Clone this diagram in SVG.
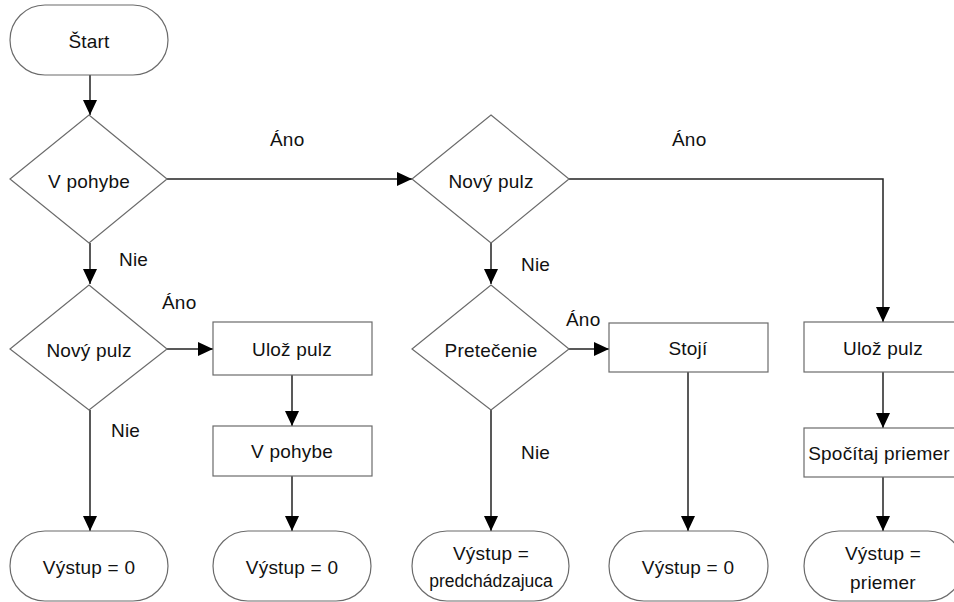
<svg xmlns="http://www.w3.org/2000/svg" width="954" height="602" viewBox="0 0 954 602">
<style>
.n{fill:#fff;stroke:#6b6b6b;stroke-width:1.2}
.t{font-family:"Liberation Sans",Arial,sans-serif;font-size:19px;letter-spacing:0.2px;fill:#111;text-anchor:middle;dominant-baseline:central}
.s{font-size:17.5px;letter-spacing:0}
.l{font-family:"Liberation Sans",Arial,sans-serif;font-size:19px;letter-spacing:0.2px;fill:#111;dominant-baseline:central}
.c{fill:none;stroke:#222;stroke-width:1.5}
</style>
<defs>
<marker id="a" markerUnits="userSpaceOnUse" markerWidth="16" markerHeight="14" refX="15" refY="7" orient="auto">
<path d="M0,0 L15,7 L0,14 z" fill="#000"/>
</marker>
</defs>
<rect width="954" height="602" fill="#fff"/>
<g id="connectors">
<path class="c" d="M90,75 V115" marker-end="url(#a)"/>
<path class="c" d="M167,179 H412" marker-end="url(#a)"/>
<path class="c" d="M90,243 V284" marker-end="url(#a)"/>
<path class="c" d="M167,349 H213" marker-end="url(#a)"/>
<path class="c" d="M90,410 V531" marker-end="url(#a)"/>
<path class="c" d="M292,375 V426" marker-end="url(#a)"/>
<path class="c" d="M292,476 V531" marker-end="url(#a)"/>
<path class="c" d="M491,243 V284" marker-end="url(#a)"/>
<path class="c" d="M569,179 H883 V322" marker-end="url(#a)"/>
<path class="c" d="M569,349 H609" marker-end="url(#a)"/>
<path class="c" d="M491,410 V531" marker-end="url(#a)"/>
<path class="c" d="M688,372 V531" marker-end="url(#a)"/>
<path class="c" d="M883,372 V428" marker-end="url(#a)"/>
<path class="c" d="M883,477 V531" marker-end="url(#a)"/>
<text class="l" x="270" y="139">Áno</text>
<text class="l" x="672" y="139">Áno</text>
<text class="l" x="119" y="259">Nie</text>
<text class="l" x="162" y="302">Áno</text>
<text class="l" x="111" y="430">Nie</text>
<text class="l" x="521" y="264">Nie</text>
<text class="l" x="566" y="319">Áno</text>
<text class="l" x="521" y="452">Nie</text>
</g>
<g id="start"><rect class="n" x="10" y="5" width="158" height="70" rx="35"/><text class="t" x="89" y="41">Štart</text></g>
<g id="d1"><path class="n" d="M89,115 L167,179 L89,243 L10,179 z"/><text class="t" x="89" y="181">V pohybe</text></g>
<g id="d2"><path class="n" d="M89,285 L167,349 L89,410 L10,349 z"/><text class="t" x="89" y="350">Nový pulz</text></g>
<g id="b1"><rect class="n" x="213" y="322" width="159" height="53"/><text class="t" x="292" y="349">Ulož pulz</text></g>
<g id="b2"><rect class="n" x="213" y="426" width="159" height="50"/><text class="t" x="292" y="451">V pohybe</text></g>
<g id="e1"><rect class="n" x="10" y="531" width="158" height="70" rx="35"/><text class="t" x="89" y="567">Výstup = 0</text></g>
<g id="e2"><rect class="n" x="213" y="531" width="158" height="70" rx="35"/><text class="t" x="292" y="567">Výstup = 0</text></g>
<g id="d3"><path class="n" d="M491,115 L569,179 L491,243 L412,179 z"/><text class="t" x="491" y="181">Nový pulz</text></g>
<g id="d4"><path class="n" d="M491,285 L569,349 L491,410 L412,349 z"/><text class="t" x="491" y="350">Pretečenie</text></g>
<g id="b3"><rect class="n" x="609" y="323" width="159" height="49"/><text class="t" x="688" y="348">Stojí</text></g>
<g id="e3"><rect class="n" x="412" y="531" width="157" height="70" rx="35"/><text class="t" x="491" y="553">Výstup =</text><text class="t s" x="491" y="581">predchádzajuca</text></g>
<g id="e4"><rect class="n" x="609" y="531" width="159" height="70" rx="35"/><text class="t" x="688" y="567">Výstup = 0</text></g>
<g id="b4"><rect class="n" x="804" y="322" width="159" height="50"/><text class="t" x="883" y="348">Ulož pulz</text></g>
<g id="b5"><rect class="n" x="804" y="428" width="159" height="49"/><text class="t" x="879" y="453">Spočítaj priemer</text></g>
<g id="e5"><rect class="n" x="804" y="531" width="159" height="70" rx="35"/><text class="t" x="883" y="553">Výstup =</text><text class="t" x="883" y="582">priemer</text></g>
</svg>
